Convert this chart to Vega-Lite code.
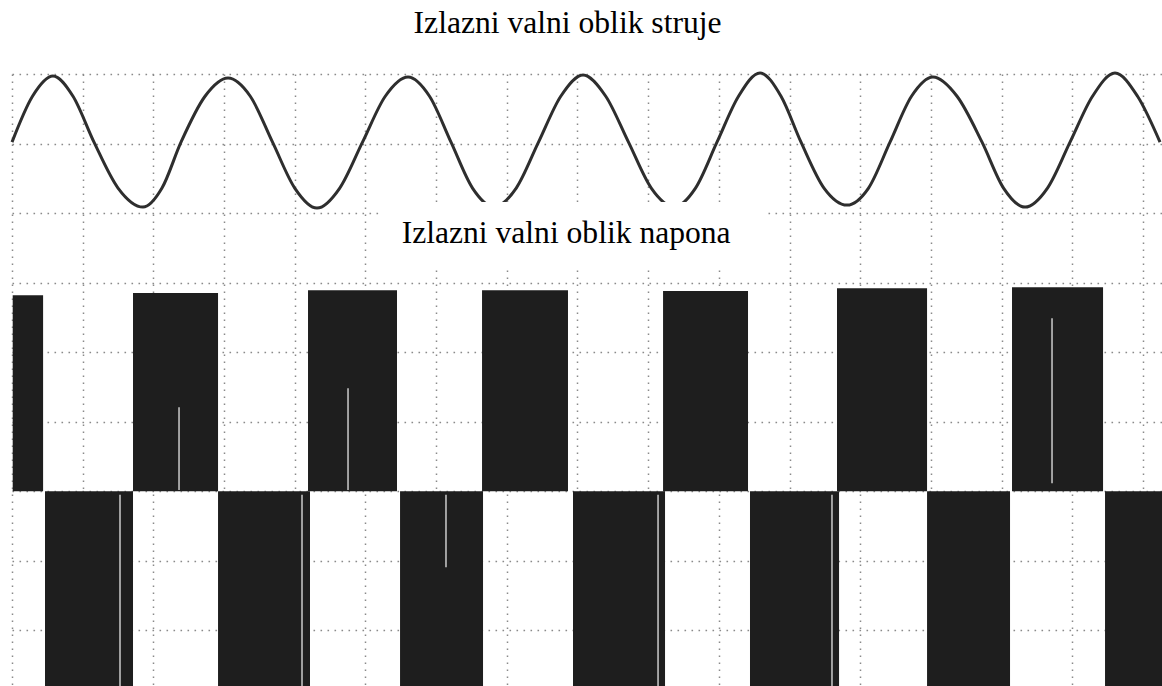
{
  "$schema": "https://vega.github.io/schema/vega-lite/v6.json",
  "width": 1150,
  "height": 612,
  "autosize": {"type": "none"},
  "padding": {"left": 12, "top": 74, "right": 0, "bottom": 0},
  "background": "white",
  "view": {"stroke": null},
  "config": {
    "axis": {
      "domain": false,
      "ticks": false,
      "labels": false,
      "grid": true,
      "gridColor": "#8a8a8a",
      "gridDash": [1.6, 5.4],
      "gridWidth": 1.5
    },
    "axisX": {"tickCount": 16},
    "axisY": {"tickCount": 9}
  },
  "datasets": {
    "volt": [
      {"t0": 0.01, "t1": 0.44, "v0": 0, "v1": 2.82},
      {"t0": 1.712, "t1": 2.915, "v0": 0, "v1": 2.85},
      {"t0": 4.188, "t1": 5.447, "v0": 0, "v1": 2.89},
      {"t0": 6.65, "t1": 7.866, "v0": 0, "v1": 2.89},
      {"t0": 9.211, "t1": 10.413, "v0": 0, "v1": 2.88},
      {"t0": 11.672, "t1": 12.946, "v0": 0, "v1": 2.92},
      {"t0": 14.148, "t1": 15.436, "v0": 0, "v1": 2.935},
      {"t0": 0.467, "t1": 1.712, "v0": 0, "v1": -2.9},
      {"t0": 2.915, "t1": 4.216, "v0": 0, "v1": -2.9},
      {"t0": 5.49, "t1": 6.664, "v0": 0, "v1": -2.9},
      {"t0": 7.937, "t1": 9.239, "v0": 0, "v1": -2.9},
      {"t0": 10.441, "t1": 11.701, "v0": 0, "v1": -2.9},
      {"t0": 12.946, "t1": 14.12, "v0": 0, "v1": -2.9},
      {"t0": 15.464, "t1": 16.27, "v0": 0, "v1": -2.9}
    ],
    "streaks": [
      {"t": 2.363, "v0": 0.02, "v1": 1.209},
      {"t": 1.528, "v0": -0.05, "v1": -2.8},
      {"t": 4.754, "v0": 0.02, "v1": 1.482},
      {"t": 4.103, "v0": -0.05, "v1": -2.8},
      {"t": 6.14, "v0": -0.05, "v1": -1.094},
      {"t": 14.714, "v0": 0.115, "v1": 2.489},
      {"t": 11.601, "v0": -0.05, "v1": -2.8},
      {"t": 9.14, "v0": -0.05, "v1": -2.8}
    ],
    "current": [
      {"t": 0, "i": 5.02}, {"t": 0.29, "i": 5.68}, {"t": 0.58, "i": 5.971},
      {"t": 0.863, "i": 5.68}, {"t": 1.16, "i": 5.02}, {"t": 1.5, "i": 4.36},
      {"t": 1.853, "i": 4.086}, {"t": 2.122, "i": 4.36}, {"t": 2.391, "i": 5.02},
      {"t": 2.731, "i": 5.68}, {"t": 3.056, "i": 5.942}, {"t": 3.371, "i": 5.68},
      {"t": 3.686, "i": 5.02}, {"t": 4.0, "i": 4.36}, {"t": 4.315, "i": 4.072},
      {"t": 4.637, "i": 4.36}, {"t": 4.959, "i": 5.02}, {"t": 5.281, "i": 5.68},
      {"t": 5.603, "i": 5.957}, {"t": 5.907, "i": 5.68}, {"t": 6.211, "i": 5.02},
      {"t": 6.515, "i": 4.36}, {"t": 6.819, "i": 4.09}, {"t": 7.134, "i": 4.36},
      {"t": 7.449, "i": 5.02}, {"t": 7.764, "i": 5.68}, {"t": 8.079, "i": 5.986},
      {"t": 8.4, "i": 5.68}, {"t": 8.722, "i": 5.02}, {"t": 9.044, "i": 4.36},
      {"t": 9.366, "i": 4.09}, {"t": 9.67, "i": 4.36}, {"t": 9.974, "i": 5.02},
      {"t": 10.279, "i": 5.68}, {"t": 10.583, "i": 6.014}, {"t": 10.88, "i": 5.68},
      {"t": 11.163, "i": 5.02}, {"t": 11.488, "i": 4.36}, {"t": 11.814, "i": 4.115},
      {"t": 12.118, "i": 4.36}, {"t": 12.422, "i": 5.02}, {"t": 12.726, "i": 5.68},
      {"t": 13.03, "i": 5.957}, {"t": 13.37, "i": 5.68}, {"t": 13.724, "i": 5.02},
      {"t": 14.028, "i": 4.36}, {"t": 14.332, "i": 4.086}, {"t": 14.65, "i": 4.36},
      {"t": 14.969, "i": 5.02}, {"t": 15.287, "i": 5.68}, {"t": 15.605, "i": 6.014},
      {"t": 15.924, "i": 5.68}, {"t": 16.242, "i": 5.02}
    ],
    "box": [
      {"t0": 5.207, "t1": 10.696, "v0": 3.209, "v1": 4.158}
    ],
    "labels": [
      {"t": 7.86, "v": 6.59, "label": "Izlazni valni oblik struje"},
      {"t": 7.84, "v": 3.568, "label": "Izlazni valni oblik napona"}
    ]
  },
  "layer": [
    {
      "data": {"name": "volt"},
      "mark": {"type": "rect", "color": "#1e1e1e", "clip": true},
      "encoding": {
        "x": {"field": "t0", "type": "quantitative", "title": null, "scale": {"domain": [0, 16.27], "nice": false, "zero": false}},
        "x2": {"field": "t1"},
        "y": {"field": "v0", "type": "quantitative", "title": null, "scale": {"domain": [-2.8, 6], "nice": false, "zero": false}},
        "y2": {"field": "v1"}
      }
    },
    {
      "data": {"name": "streaks"},
      "mark": {"type": "rule", "color": "#e6e6e6", "strokeWidth": 1.3, "clip": true},
      "encoding": {
        "x": {"field": "t", "type": "quantitative", "title": null},
        "y": {"field": "v0", "type": "quantitative", "title": null},
        "y2": {"field": "v1"}
      }
    },
    {
      "data": {"name": "current"},
      "mark": {"type": "line", "color": "#2e2e2e", "strokeWidth": 3, "interpolate": "monotone"},
      "encoding": {
        "x": {"field": "t", "type": "quantitative", "title": null},
        "y": {"field": "i", "type": "quantitative", "title": null}
      }
    },
    {
      "data": {"name": "box"},
      "mark": {"type": "rect", "color": "white"},
      "encoding": {
        "x": {"field": "t0", "type": "quantitative", "title": null},
        "x2": {"field": "t1"},
        "y": {"field": "v0", "type": "quantitative", "title": null},
        "y2": {"field": "v1"}
      }
    },
    {
      "data": {"name": "labels"},
      "mark": {"type": "text", "font": "Liberation Serif", "fontSize": 31.6, "align": "center", "baseline": "alphabetic", "color": "black"},
      "encoding": {
        "x": {"field": "t", "type": "quantitative", "title": null},
        "y": {"field": "v", "type": "quantitative", "title": null},
        "text": {"field": "label"}
      }
    }
  ]
}
